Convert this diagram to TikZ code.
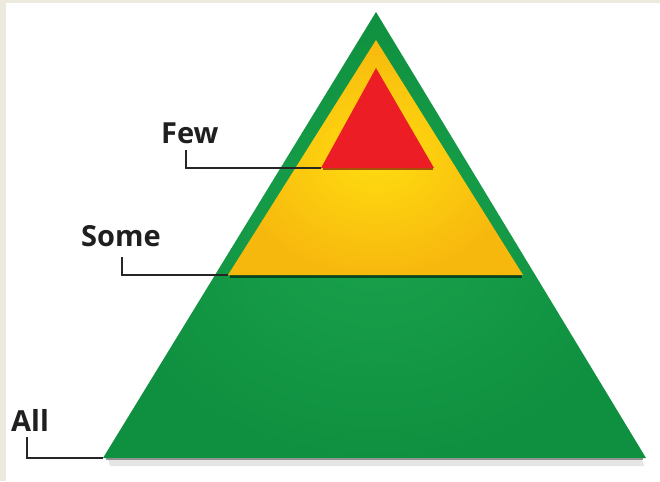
\documentclass[tikz,border=0pt]{standalone}
\usepackage{fontspec}
\setmainfont{Open Sans}
\usetikzlibrary{calc}
\begin{document}
\begin{tikzpicture}[x=1pt,y=-1pt,
  lbl/.style={font=\bfseries\fontsize{29}{32}\selectfont, text=black!88, inner sep=0pt, anchor=south west},
  leader/.style={draw=black!85, line width=1.6pt},
  shadowline/.style={draw=black!70, line width=2.4pt, opacity=0.55}]
\definecolor{bgbeige}{HTML}{ECE9DF}
\definecolor{grn}{HTML}{1AA24C}
\definecolor{grnd}{HTML}{0F9040}
\definecolor{ylwin}{HTML}{FFDC10}
\definecolor{ylwout}{HTML}{F7B80E}
\definecolor{redc}{HTML}{EC1D25}
\useasboundingbox (0,0) rectangle (660,481);
\fill[bgbeige] (0,0) rectangle (660,481);
\fill[white] (6,3) rectangle (660,481);
% coordinates
\coordinate (gA) at (376,12);
\coordinate (gL) at (103,458);
\coordinate (gR) at (646,458);
\coordinate (yA) at (376,40);
\coordinate (yL) at (228,275);
\coordinate (yR) at (523,275);
\coordinate (rA) at (376,68);
\coordinate (rL) at (321,168);
\coordinate (rR) at (434,168);
% shadow under green base
\fill[black, opacity=0.10] (108,459) -- (642,459) -- (644,466) -- (110,466) -- cycle;
% green
\shade[inner color=grn, outer color=grnd] (gA) -- (gR) -- (gL) -- cycle;
\draw[shadowline] ($(gL)+(3,1)$) -- ($(gR)+(-3,1)$);
% yellow shadow
\draw[draw=black!70!grnd, line width=3pt, opacity=0.75] ($(yL)+(2,1.5)$) -- ($(yR)+(-1,1.5)$);
\shade[inner color=ylwin, outer color=ylwout] (yA) -- (yR) -- (yL) -- cycle;
% red
\draw[draw=black!60!red, line width=2.4pt, opacity=0.6] ($(rL)+(2,1.2)$) -- ($(rR)+(-1,1.2)$);
\fill[redc] (rA) -- (rR) -- (rL) -- cycle;
% labels
\node[lbl] (few) at (161,144) {Few};
\node[lbl] (some) at (81,247) {Some};
\node[lbl] (all) at (11,432) {All};
% leaders
\draw[leader] ($(few.south west)+(25,6)$) |- (rL);
\draw[leader] ($(some.south west)+(41,10)$) |- (yL);
\draw[leader] ($(all.south west)+(16,5)$) |- (gL);
\end{tikzpicture}
\end{document}
